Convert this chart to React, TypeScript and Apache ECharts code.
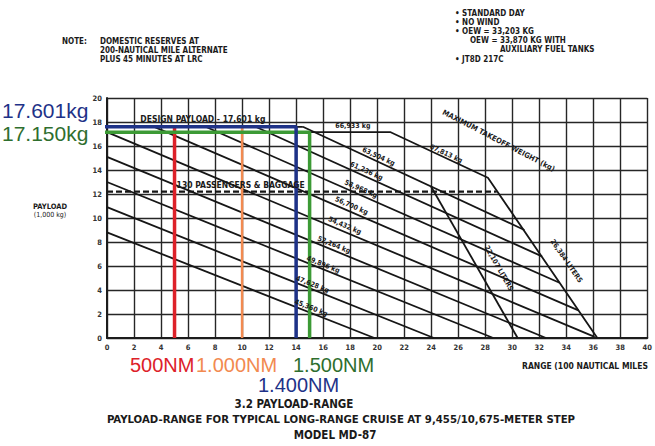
import React, { useEffect, useRef } from "react";
import * as echarts from "echarts";

// ---- axes ----
const xRange = [0, 40];
const yRange = [0, 20];
const tickStep = 2;

// ---- takeoff-weight lines (range in 100 NM, payload in 1,000 kg) ----
const weightNames = ["45,360 kg", "47,628 kg", "49,896 kg", "52,164 kg", "54,432 kg", "56,700 kg", "58,968 kg", "61,236 kg", "63,504 kg"];
const weightStart = [[0, 8.8], [0, 10.9], [0, 13.0], [0, 15.1], [0, 17.15], [3.5, 17.6], [7.3, 17.6], [11.0, 17.6], [14.5, 17.6]];
const weightEnd = [[19.8, 0], [24.2, 0], [28.6, 0], [32.5, 0], [36.1, 0.1], [34.9, 2.3], [33.5, 4.6], [32.2, 6.8], [30.9, 9.0]];
const weightLabelAt = [[15.1, 2.5], [15.2, 4.45], [16.0, 6.1], [16.8, 7.75], [17.6, 9.35], [18.1, 11.0], [18.8, 12.4], [19.2, 13.9], [20.1, 15.1]];

// ---- envelope, fuel-capacity and reference lines ----
const mtowPath = [[0, 17.15], [21.0, 17.15], [28.2, 13.35], [36.3, 0]];
const fuelStdPath = [[24.0, 12.6], [30.4, 0]];
const designPayloadPath = [[0, 17.6], [14.5, 17.6]];
const paxPath = [[0, 12.2], [28.85, 12.2]];

// envelope labels: text, position, segment index of mtowPath (or -1 = fuelStdPath)
const envLabels = ["66,933 kg", "67,813 kg", "MAXIMUM TAKEOFF WEIGHT (kg)", "26,384 LITERS", "22,107 LITERS"];
const envLabelAt = [[18.2, 17.7], [25.1, 15.35], [29.0, 16.45], [34.0, 6.4], [29.0, 5.8]];
const envLabelSeg = [0, 1, 1, 2, -1];
const designLabel = "DESIGN PAYLOAD - 17,601 kg";
const designLabelAt = [7.1, 18.25];
const paxLabel = "130 PASSENGERS & BAGGAGE";
const paxLabelAt = [9.9, 12.75];

// ---- coloured annotations ----
const refBlue = [[-1.1, 17.601], [14, 17.601], [14, 0]];
const refGreen = [[-0.9, 17.15], [15, 17.15], [15, 0]];
const refRed = [[5, 17.601], [5, 0]];
const refOrange = [[10, 17.601], [10, 0]];

const NAVY = "#1e3288";
const GREEN = "#3c9a35";
const GREEN_TXT = "#2e6e2e";
const RED = "#dd2129";
const ORANGE = "#f28a50";

const NARROW = '"Liberation Sans Narrow", "DejaVu Sans Condensed", "Liberation Sans", sans-serif';
const ARIAL = '"Liberation Sans", Arial, sans-serif';

function lineSeries(data: number[][], opts: any = {}) {
  return {
    type: "line",
    data,
    symbol: "none",
    silent: true,
    animation: false,
    lineStyle: { color: "#161616", width: 1.8, ...(opts.lineStyle || {}) },
    z: opts.z ?? 3,
    clip: opts.clip ?? true,
  };
}

function txt(text: string, x: number, y: number, o: any = {}) {
  return {
    type: "text",
    x,
    y,
    rotation: o.rotation || 0,
    z: 50,
    style: {
      text,
      fill: o.fill || "#1a1a1a",
      fontSize: o.size || 7,
      fontFamily: o.family || NARROW,
      fontWeight: o.weight || "bold",
      align: o.align || "left",
      verticalAlign: "middle",
    },
  };
}

export default function App() {
  const ref = useRef<HTMLDivElement>(null);
  useEffect(() => {
    if (!ref.current) return;
    const chart = echarts.init(ref.current, undefined, { renderer: "svg" });
    const axisCommon = {
      type: "value",
      interval: tickStep,
      axisLine: { show: true, lineStyle: { color: "#1c1c1c", width: 2 } },
      axisTick: { show: false },
      splitLine: { show: true, lineStyle: { color: "#262626", width: 1.4 } },
      axisLabel: { fontSize: 7.5, fontWeight: "bold", color: "#333", fontFamily: NARROW },
    };
    const series: any[] = [];
    weightStart.forEach((s, i) => series.push(lineSeries([s, weightEnd[i]])));
    series.push(lineSeries(mtowPath));
    series.push(lineSeries(fuelStdPath));
    series.push(lineSeries(designPayloadPath));
    series.push(lineSeries(paxPath, { lineStyle: { type: [6, 3], width: 2.2 } }));
    series.push(lineSeries(refRed, { lineStyle: { color: RED, width: 3.5 }, z: 5 }));
    series.push(lineSeries(refOrange, { lineStyle: { color: ORANGE, width: 2.5 }, z: 5 }));
    series.push(lineSeries(refGreen, { lineStyle: { color: GREEN, width: 3.5 }, z: 6, clip: false }));
    series.push(lineSeries(refBlue, { lineStyle: { color: NAVY, width: 3.5 }, z: 7, clip: false }));

    chart.setOption({
      animation: false,
      backgroundColor: "#ffffff",
      grid: { left: 107, right: 4, top: 98, bottom: 108 },
      xAxis: { ...axisCommon, min: xRange[0], max: xRange[1], axisLabel: { ...axisCommon.axisLabel, margin: 5 } },
      yAxis: { ...axisCommon, min: yRange[0], max: yRange[1], axisLabel: { ...axisCommon.axisLabel, margin: 5 } },
      series,
    });

    const px = (p: number[]) => chart.convertToPixel({ xAxisIndex: 0, yAxisIndex: 0 }, p) as number[];
    const ang = (a: number[], b: number[]) => {
      const pa = px(a);
      const pb = px(b);
      return Math.atan2(-(pb[1] - pa[1]), pb[0] - pa[0]);
    };

    const g: any[] = [];
    weightNames.forEach((n, i) => {
      const p = px(weightLabelAt[i]);
      g.push(txt(n, p[0], p[1], { rotation: ang(weightStart[i], weightEnd[i]), align: "center", size: 7 }));
    });
    envLabels.forEach((n, i) => {
      const s = envLabelSeg[i];
      const a = s < 0 ? fuelStdPath[0] : mtowPath[s];
      const b = s < 0 ? fuelStdPath[1] : mtowPath[s + 1];
      const p = px(envLabelAt[i]);
      let r = ang(a, b);
      if (i === 2) r -= 0.04;
      g.push(txt(n, p[0], p[1], { rotation: r, align: "center", size: i === 2 ? 7.5 : 7 }));
    });
    {
      const p = px(designLabelAt);
      g.push(txt(designLabel, p[0], p[1], { align: "center", size: 8.5 }));
      const q = px(paxLabelAt);
      g.push(txt(paxLabel, q[0], q[1], { align: "center", size: 8.5 }));
    }

    // big coloured annotation texts
    g.push(txt("17.601kg", 2, 110, { fill: NAVY, size: 21, family: ARIAL, weight: "normal" }));
    g.push(txt("17.150kg", 2, 133, { fill: GREEN_TXT, size: 21, family: ARIAL, weight: "normal" }));
    g.push(txt("500NM", 130, 365, { fill: RED, size: 20, family: ARIAL, weight: "normal" }));
    g.push(txt("1.000NM", 196, 365, { fill: ORANGE, size: 20, family: ARIAL, weight: "normal" }));
    g.push(txt("1.500NM", 293, 365, { fill: GREEN_TXT, size: 20, family: ARIAL, weight: "normal" }));
    g.push(txt("1.400NM", 258, 385, { fill: NAVY, size: 20, family: ARIAL, weight: "normal" }));

    // axis names
    g.push(txt("PAYLOAD", 50, 206, { align: "center", size: 7.5 }));
    g.push(txt("(1,000 kg)", 50, 215, { align: "center", size: 7, weight: "normal" }));
    g.push(txt("RANGE (100 NAUTICAL MILES", 522, 366, { size: 8.5 }));

    // notes
    g.push(txt("NOTE:", 62, 41, { size: 8 }));
    g.push(txt("DOMESTIC RESERVES AT", 100, 41, { size: 8 }));
    g.push(txt("200-NAUTICAL MILE ALTERNATE", 100, 50, { size: 8 }));
    g.push(txt("PLUS 45 MINUTES AT LRC", 100, 59, { size: 8 }));
    g.push(txt("\u2022 STANDARD DAY", 455, 13, { size: 8 }));
    g.push(txt("\u2022 NO WIND", 455, 22, { size: 8 }));
    g.push(txt("\u2022 OEW = 33,203 KG", 455, 31, { size: 8 }));
    g.push(txt("OEW = 33,870 KG WITH", 470, 40, { size: 8 }));
    g.push(txt("AUXILIARY FUEL TANKS", 500, 49, { size: 8 }));
    g.push(txt("\u2022 JT8D 217C", 455, 59, { size: 8 }));

    // titles
    g.push(txt("3.2 PAYLOAD-RANGE", 294, 404, { align: "center", size: 11.5 }));
    g.push(txt("PAYLOAD-RANGE FOR TYPICAL LONG-RANGE CRUISE AT 9,455/10,675-METER STEP", 341, 419, { align: "center", size: 11.3 }));
    g.push(txt("MODEL MD-87", 335, 435, { align: "center", size: 11.5 }));

    chart.setOption({ graphic: g });
    return () => chart.dispose();
  }, []);
  return (
    <div
      ref={ref}
      style={{ position: "fixed", left: 0, top: 0, width: 655, height: 446, background: "#fff" }}
    />
  );
}
